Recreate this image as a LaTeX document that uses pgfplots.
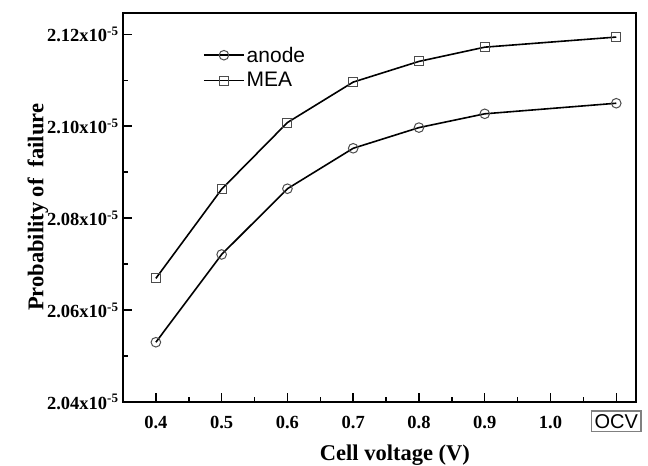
\documentclass[border=0pt]{standalone}
\usepackage{pgfplots}
\pgfplotsset{compat=1.18}
\usepackage{fontspec}
\setmainfont{Liberation Serif}
\setsansfont{Liberation Sans}
\begin{document}
\begin{tikzpicture}
\path[use as bounding box] (-123bp,-64bp) rectangle (525bp,402bp);
\begin{axis}[
  scale only axis, width=513bp, height=389.3bp,
  at={(0,0)}, anchor=south west,
  xmin=0.35, xmax=1.13, ymin=2.04, ymax=2.1247,
  axis line style={line width=1.8bp},
  tick align=inside, xtick pos=bottom, ytick pos=left,
  major tick length=9bp, minor tick length=5bp,
  tick style={line width=1.5bp, black},
  xtick={0.4,0.5,0.6,0.7,0.8,0.9,1.0,1.1},
  xticklabels={0.4,0.5,0.6,0.7,0.8,0.9,1.0,{\setlength{\fboxrule}{1.2bp}\setlength{\fboxsep}{2.5bp}\fcolorbox{gray}{white}{\sffamily\mdseries\fontsize{20bp}{22bp}\selectfont OCV}}},
  minor x tick num=1,
  ytick={2.04,2.06,2.08,2.10,2.12},
  yticklabels={2.04x10\textsuperscript{-5},2.06x10\textsuperscript{-5},2.08x10\textsuperscript{-5},2.10x10\textsuperscript{-5},2.12x10\textsuperscript{-5}},
  minor y tick num=1,
  ticklabel style={font=\fontsize{18.5bp}{21bp}\selectfont\bfseries},
  xticklabel style={anchor=base, yshift=-26bp},
  yticklabel style={xshift=-1bp},
  xlabel={Cell voltage (V)},
  ylabel={Probability of\ \ failure},
  label style={font=\fontsize{22.5bp}{26bp}\selectfont\bfseries},
  xlabel style={at={(axis description cs:0.53,-0.149)}, anchor=base},
  ylabel style={at={(axis description cs:-0.166,0.5)}, anchor=center},
  legend style={draw=none, fill=none, at={(axis description cs:0.15,0.923)}, anchor=north west,
    font=\sffamily\fontsize{21bp}{24bp}\selectfont, row sep=5bp},
  legend cell align=left,
  legend image code/.code={\draw[mark repeat=2,mark phase=2,#1,line width=1.6bp] plot coordinates {(0bp,0bp) (20bp,0bp) (40bp,0bp)};},
]
\addplot[black, line width=1.6bp, mark=o, mark size=4.8bp, mark options={solid, draw=black!70, fill=white, line width=1bp}]
coordinates {(0.4,2.0530) (0.5,2.0721) (0.6,2.0864) (0.7,2.0952) (0.8,2.0997) (0.9,2.1027) (1.1,2.1050)};
\addlegendentry{anode}
\addplot[black, line width=1.6bp, mark=square, mark size=4.5bp, mark options={solid, draw=black!70, fill=white, line width=1bp}]
coordinates {(0.4,2.0669) (0.5,2.0863) (0.6,2.1008) (0.7,2.1096) (0.8,2.1141) (0.9,2.1172) (1.1,2.1194)};
\addlegendentry{MEA}
\end{axis}
\end{tikzpicture}
\end{document}
